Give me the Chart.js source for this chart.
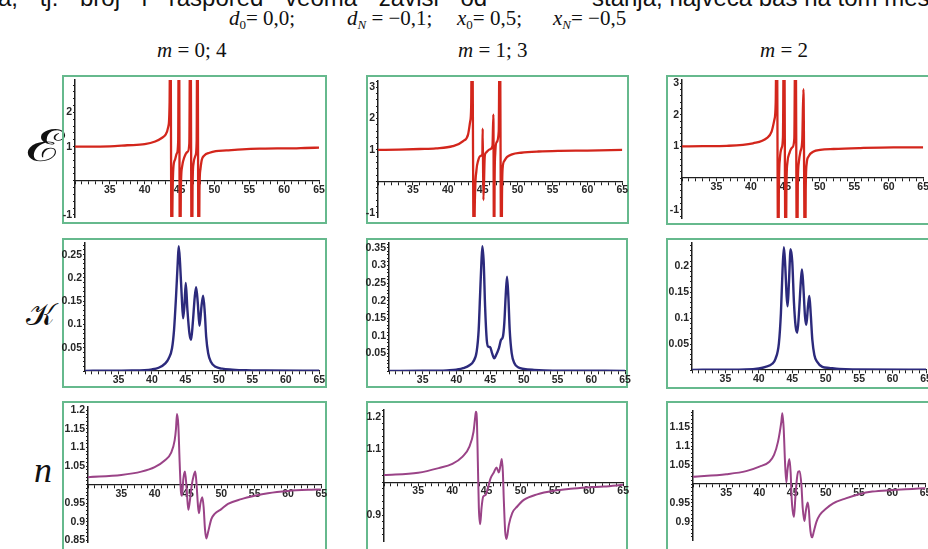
<!DOCTYPE html>
<html>
<head>
<meta charset="utf-8">
<script src="https://cdn.jsdelivr.net/npm/chart.js@4.4.1/dist/chart.umd.min.js"></script>
<style>
  body { margin: 0; background: #fff; }
  #page { position: relative; width: 928px; height: 549px; overflow: hidden; background: #fff; }
  .frame { position: absolute; border: 2px solid #66b98d; box-sizing: border-box; }
  canvas { position: absolute; }
  .txt { position: absolute; white-space: nowrap; line-height: 1; color: #111; }
  .serif { font-family: "Liberation Serif", "Times New Roman", serif; font-size: 21px; }
  .cut { font-family: "Liberation Sans", Arial, sans-serif; font-size: 24px; top: -14px; }
  .row { font-family: "DejaVu Serif", "Liberation Serif", serif; transform-origin: 0 0; }
  sub { font-size: 13px; vertical-align: -4px; line-height: 0; }
</style>
</head>
<body>
<div id="page">
  <div class="txt cut" style="left:-2px;word-spacing:15px">a, tj. broj i raspored veoma zavisi od</div>
  <div class="txt cut" style="left:592px">stanja, najveća baš na tom mestu</div>

  <div class="txt serif" style="left:229px;top:8px"><i>d</i><sub>0</sub>= 0,0;</div>
  <div class="txt serif" style="left:347px;top:8px"><i>d<sub>N</sub></i> = −0,1;</div>
  <div class="txt serif" style="left:457px;top:8px"><i>x</i><sub>0</sub>= 0,5;</div>
  <div class="txt serif" style="left:553px;top:8px"><i>x<sub>N</sub></i>= −0,5</div>

  <div class="txt serif" style="left:157px;top:40px"><i>m</i> = 0; 4</div>
  <div class="txt serif" style="left:458px;top:40px"><i>m</i> = 1; 3</div>
  <div class="txt serif" style="left:760px;top:40px"><i>m</i> = 2</div>

  <div class="txt row" style="left:26px;top:124px;font-size:44px;transform:scaleX(1.45)">ℰ</div>
  <div class="txt row" style="left:26px;top:299px;font-size:31px">𝒦</div>
  <div class="txt row" style="left:34px;top:452px;font-size:36px;font-family:'Liberation Serif';font-style:italic">n</div>
</div>

<script>
// x axis ticks shared by every panel
const xTickLabels = [35, 40, 45, 50, 55, 60, 65];

// epsilon, m = 0; 4
const epsX04 = [30, 32, 35, 37.5, 40, 41.5, 42.5, 43, 43.4, 43.57, 43.67, 43.88, 43.97, 44.1, 44.35, 44.6, 44.8, 44.9, 45.07, 45.18, 45.35, 45.7, 46.15, 46.4, 46.54, 46.77, 46.86, 47.0, 47.3, 47.45, 47.55, 47.75, 47.85, 48.0, 48.2, 48.55, 49.3, 50.2, 51.7, 54, 56.5, 59, 61.3, 63, 65];
const epsY04 = [1.0, 1.0, 1.01, 1.04, 1.07, 1.15, 1.26, 1.35, 1.6, 2.3, 6, -4, -0.9, 0.35, 0.62, 0.8, 1.15, 6, -4, -0.3, 0.4, 0.7, 0.85, 1.1, 6, -4, -0.2, 0.5, 0.75, 1.15, 6, -4, -0.3, 0.35, 0.62, 0.74, 0.82, 0.87, 0.89, 0.92, 0.94, 0.95, 0.95, 0.96, 0.97];
const epsTicks04 = [-1, 1, 2];

// epsilon, m = 1; 3
const epsX13 = [30, 33, 36, 38.3, 40.7, 42.2, 42.9, 43.2, 43.35, 43.47, 43.76, 43.85, 44.1, 44.35, 44.7, 44.95, 45.0, 45.1, 45.3, 45.5, 46.0, 46.4, 46.53, 46.63, 46.7, 46.8, 47.0, 47.3, 47.44, 47.68, 47.76, 47.85, 48.1, 48.5, 49.2, 50.5, 53, 56, 60, 65];
const epsY13 = [1.0, 1.01, 1.03, 1.05, 1.12, 1.28, 1.49, 1.9, 2.4, 6, -4, -1.0, 0.34, 0.66, 0.81, 0.86, 1.68, -0.6, 0.81, 0.92, 1.02, 1.12, 2.13, -4, -0.2, 0.9, 1.25, 1.6, 6, -4, -0.6, 0.4, 0.65, 0.78, 0.86, 0.91, 0.95, 0.97, 0.98, 1.0];
const epsTicks13 = [-1, 1, 2, 3];

// epsilon, m = 2
const epsX2 = [30, 33, 36.5, 40.3, 42.3, 43.0, 43.4, 43.6, 43.74, 43.98, 44.05, 44.2, 44.45, 44.65, 44.8, 45.05, 45.15, 45.3, 45.6, 46.0, 46.3, 46.46, 46.7, 46.8, 46.95, 47.2, 47.45, 47.62, 47.86, 47.95, 48.1, 48.35, 49.1, 50.05, 52, 55.9, 60.7, 65];
const epsY2 = [1.0, 1.01, 1.02, 1.1, 1.26, 1.47, 1.84, 2.4, 6, -4, -0.5, 0.6, 0.95, 1.3, 6, -4, -0.3, 0.5, 0.8, 0.97, 1.25, 6, -4, -0.3, 0.5, 0.85, 1.2, 2.81, -4, -0.4, 0.47, 0.68, 0.84, 0.89, 0.92, 0.95, 0.97, 0.97];
const epsTicks2 = [-1, 1, 2, 3];

// kappa
const kapX04 = [30, 34, 37, 40, 41, 42, 42.5, 43, 43.3, 43.6, 43.85, 44.0, 44.2, 44.45, 44.65, 44.85, 45.05, 45.3, 45.6, 45.85, 46.1, 46.4, 46.6, 46.85, 47.1, 47.4, 47.65, 47.9, 48.1, 48.4, 48.8, 49.5, 50.5, 52, 54, 57, 65];
const kapY04 = [0.0003, 0.0006, 0.001, 0.0036, 0.007, 0.0165, 0.027, 0.049, 0.088, 0.16, 0.232, 0.268, 0.232, 0.16, 0.113, 0.139, 0.189, 0.131, 0.081, 0.067, 0.103, 0.16, 0.18, 0.146, 0.097, 0.139, 0.162, 0.124, 0.074, 0.038, 0.02, 0.009, 0.005, 0.003, 0.0015, 0.001, 0.0004];
const kapTicks04 = [0.05, 0.1, 0.15, 0.2, 0.25];

const kapX13 = [30, 35, 38, 39, 40, 41, 42, 42.5, 43, 43.3, 43.5, 43.7, 43.85, 44.05, 44.25, 44.5, 44.75, 45.0, 45.3, 45.6, 45.9, 46.3, 46.6, 46.9, 47.1, 47.3, 47.5, 47.7, 47.9, 48.2, 48.6, 49.2, 50, 51.5, 53, 57, 65];
const kapY13 = [0.0003, 0.0006, 0.0012, 0.002, 0.004, 0.008, 0.017, 0.027, 0.055, 0.117, 0.212, 0.307, 0.355, 0.307, 0.184, 0.088, 0.069, 0.068, 0.05, 0.036, 0.046, 0.065, 0.088, 0.098, 0.136, 0.212, 0.268, 0.212, 0.117, 0.05, 0.022, 0.01, 0.006, 0.003, 0.0015, 0.0008, 0.0004];
const kapTicks13 = [0.05, 0.1, 0.15, 0.2, 0.25, 0.3, 0.35];

const kapX2 = [30, 35, 38, 40, 41, 42, 42.5, 43, 43.3, 43.55, 43.75, 43.95, 44.15, 44.3, 44.5, 44.75, 45.0, 45.25, 45.5, 45.75, 46.0, 46.3, 46.45, 46.65, 46.9, 47.1, 47.35, 47.55, 47.75, 48.0, 48.3, 48.7, 49.5, 50.5, 52, 54, 65];
const kapY2 = [0.0003, 0.0006, 0.001, 0.003, 0.006, 0.012, 0.022, 0.052, 0.11, 0.195, 0.237, 0.2, 0.143, 0.123, 0.169, 0.233, 0.208, 0.13, 0.084, 0.072, 0.11, 0.175, 0.194, 0.162, 0.104, 0.087, 0.123, 0.143, 0.11, 0.058, 0.029, 0.016, 0.006, 0.004, 0.002, 0.001, 0.0004];
const kapTicks2 = [0.05, 0.1, 0.15, 0.2];

// refractive index n
const nX04 = [30, 35, 38, 40, 41.5, 42.5, 43.0, 43.2, 43.35, 43.55, 43.75, 43.95, 44.1, 44.3, 44.55, 44.8, 45.05, 45.25, 45.55, 45.85, 46.1, 46.3, 46.5, 46.65, 46.85, 47.15, 47.35, 47.55, 47.75, 48.0, 48.5, 49, 50, 51, 53, 55, 57, 60, 63, 65];
const nY04 = [1.02, 1.026, 1.035, 1.047, 1.065, 1.087, 1.119, 1.15, 1.19, 1.16, 1.06, 0.979, 0.97, 1.015, 1.035, 0.988, 0.932, 0.952, 0.997, 1.024, 1.035, 0.997, 0.943, 0.923, 0.948, 0.966, 0.939, 0.88, 0.855, 0.871, 0.907, 0.921, 0.934, 0.948, 0.961, 0.97, 0.977, 0.983, 0.986, 0.987];
const nTicks04 = [0.85, 0.9, 0.95, 1.05, 1.1, 1.15, 1.2];

const nX13 = [30, 35, 38, 40, 41.5, 42.5, 43.1, 43.35, 43.45, 43.6, 43.73, 43.88, 44.07, 44.27, 44.51, 44.85, 45.2, 45.59, 46.07, 46.46, 46.8, 47.1, 47.24, 47.39, 47.54, 47.73, 47.93, 48.27, 48.76, 49.49, 50.46, 52.41, 54.85, 57.3, 59.73, 62.17, 65];
const nY13 = [1.022, 1.029, 1.043, 1.056, 1.078, 1.109, 1.154, 1.2, 1.215, 1.185, 1.063, 0.921, 0.872, 0.921, 0.956, 0.961, 0.982, 1.012, 1.03, 1.045, 1.03, 1.058, 1.071, 1.032, 0.941, 0.85, 0.827, 0.87, 0.906, 0.926, 0.946, 0.963, 0.974, 0.98, 0.984, 0.987, 0.992];
const nTicks13 = [0.9, 1.1, 1.2];

const nX2 = [30, 35, 38, 40, 41.5, 42.2, 42.8, 43.3, 43.45, 43.65, 43.85, 44.05, 44.2, 44.5, 44.7, 44.85, 45.0, 45.2, 45.4, 45.65, 45.86, 46.07, 46.32, 46.52, 46.77, 46.97, 47.27, 47.45, 47.6, 47.77, 47.93, 48.18, 48.58, 49.08, 50.1, 51.1, 53, 55, 57, 60, 63, 65];
const nY2 = [1.019, 1.026, 1.034, 1.046, 1.059, 1.077, 1.112, 1.165, 1.187, 1.147, 1.059, 1.004, 1.033, 1.066, 1.03, 0.962, 0.93, 0.913, 0.962, 1.015, 1.033, 1.034, 0.997, 0.936, 0.902, 0.927, 0.951, 0.93, 0.89, 0.865, 0.859, 0.874, 0.9, 0.918, 0.936, 0.949, 0.962, 0.973, 0.98, 0.984, 0.987, 0.989];
const nTicks2 = [0.9, 0.95, 1.05, 1.1, 1.15];

const RED = '#d3261c', BLUE = '#2c2a7c', PURPLE = '#9a4387';

// green boxes around each plot
const frames = [
  [62, 75, 265, 149], [366, 75, 263, 149], [666, 75, 280, 150],
  [62, 238, 265, 150], [366, 238, 262, 150], [666, 238, 280, 151],
  [62, 401, 265, 160], [366, 401, 262, 160], [666, 401, 280, 160]
];

// plot areas in page pixels and the value ranges they show
const panels = [
  { xs: epsX04, ys: epsY04, color: RED, lw: 2.3, l: 75, r: 319, t: 80, b: 217, min: -1.06, max: 2.95, cross: 0, majors: epsTicks04, minor: 0.2 },
  { xs: epsX13, ys: epsY13, color: RED, lw: 2.3, l: 378, r: 622.3, t: 80.7, b: 216.7, min: -1.14, max: 3.2, cross: 0, majors: epsTicks13, minor: 0.2 },
  { xs: epsX2, ys: epsY2, color: RED, lw: 2.3, l: 681.5, r: 922.7, t: 80, b: 218.3, min: -1.26, max: 3.1, cross: 0, majors: epsTicks2, minor: 0.2 },
  { xs: kapX04, ys: kapY04, color: BLUE, lw: 2.4, l: 85, r: 319.3, t: 243.3, b: 371, min: 0, max: 0.275, cross: 0, majors: kapTicks04, minor: 0.01 },
  { xs: kapX13, ys: kapY13, color: BLUE, lw: 2.4, l: 389, r: 625, t: 243.3, b: 371, min: 0, max: 0.364, cross: 0, majors: kapTicks13, minor: 0.01 },
  { xs: kapX2, ys: kapY2, color: BLUE, lw: 2.4, l: 692, r: 926, t: 243.3, b: 370, min: 0, max: 0.245, cross: 0, majors: kapTicks2, minor: 0.01 },
  { xs: nX04, ys: nY04, color: PURPLE, lw: 2, l: 87.7, r: 321, t: 406.7, b: 541.7, min: 0.8455, max: 1.209, cross: 1, majors: nTicks04, minor: 0.01 },
  { xs: nX13, ys: nY13, color: PURPLE, lw: 2, l: 383.5, r: 622.7, t: 410, b: 541, min: 0.8207, max: 1.2204, cross: 1, majors: nTicks13, minor: 0.02 },
  { xs: nX2, ys: nY2, color: PURPLE, lw: 2, l: 692.5, r: 925, t: 411, b: 540, min: 0.852, max: 1.193, cross: 1, majors: nTicks2, minor: 0.01 }
];

const page = document.getElementById('page');
frames.forEach(([x, y, w, h]) => {
  const d = document.createElement('div');
  d.className = 'frame';
  Object.assign(d.style, { left: x + 'px', top: y + 'px', width: w + 'px', height: h + 'px' });
  page.appendChild(d);
});

const AXIS = '#1e1e1e';
const tickFont = { family: 'Liberation Sans, Arial, sans-serif', size: 10.5, weight: 'bold' };
const rnd = v => Math.round(v * 10000) / 10000;

function stepTicks(min, max, step) {
  const out = [];
  for (let v = Math.ceil(min / step) * step; v <= max + 1e-9; v += step) out.push({ value: rnd(v) });
  return out;
}

const PAD = 40, PADT = 20;
panels.forEach(p => {
  const c = document.createElement('canvas');
  const w = Math.round(p.r - p.l) + PAD + PADT, h = Math.round(p.b - p.t) + 2 * PADT;
  c.width = w; c.height = h;
  c.style.left = (p.l - PAD) + 'px';
  c.style.top = (p.t - PADT) + 'px';
  page.appendChild(c);

  new Chart(c, {
    type: 'line',
    data: {
      datasets: [{
        data: p.xs.map((x, i) => ({ x: x, y: p.ys[i] })),
        borderColor: p.color,
        borderWidth: p.lw,
        pointRadius: 0,
        cubicInterpolationMode: 'monotone'
      }]
    },
    options: {
      responsive: false,
      animation: false,
      layout: { padding: { left: 0, top: PADT, right: w - PAD - (p.r - p.l), bottom: PADT } },
      plugins: { legend: { display: false }, tooltip: { enabled: false } },
      scales: {
        x: {
          type: 'linear', min: 30, max: 65,
          position: { y: p.cross },
          border: { color: AXIS, width: 1.3 },
          grid: { drawOnChartArea: false, tickLength: 3, color: AXIS },
          ticks: {
            autoSkip: false, maxRotation: 0, padding: 0, color: '#262626', font: tickFont,
            callback: v => xTickLabels.includes(rnd(v)) ? String(rnd(v)) : ''
          },
          afterBuildTicks: s => { s.ticks = stepTicks(30, 65, 1); }
        },
        y: {
          type: 'linear', min: p.min, max: p.max, position: 'left',
          border: { color: AXIS, width: 1.5 },
          grid: { drawOnChartArea: false, tickLength: 2, color: AXIS },
          ticks: {
            autoSkip: false, padding: 1, color: '#262626', font: tickFont,
            callback: v => p.majors.includes(rnd(v)) ? String(rnd(v)) : ''
          },
          afterBuildTicks: s => { s.ticks = stepTicks(p.min, p.max, p.minor); },
          afterFit: s => { s.width = PAD; }
        }
      }
    }
  });
});
</script>
</body>
</html>
